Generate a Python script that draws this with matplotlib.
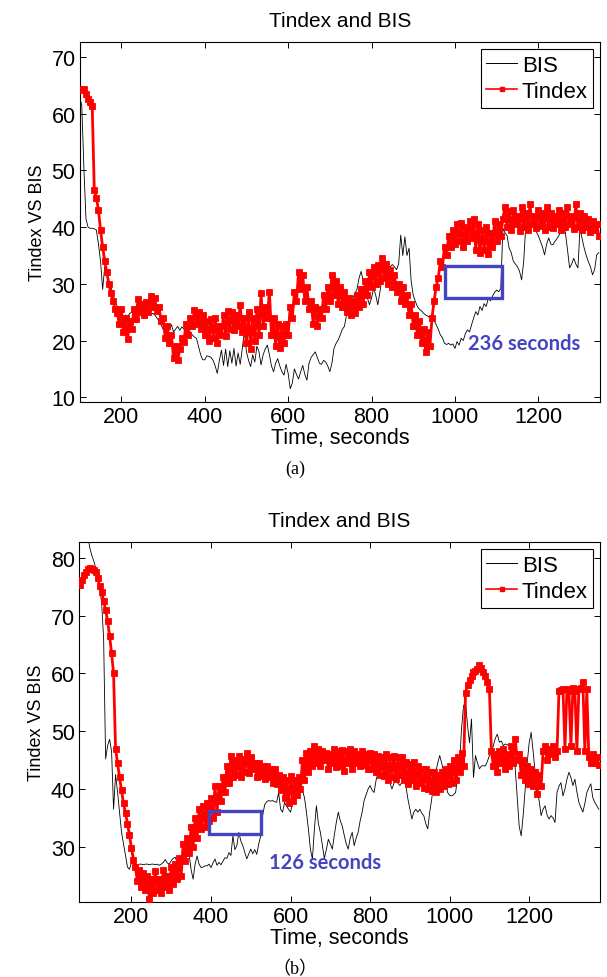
import numpy as np
import matplotlib
matplotlib.use("Agg")
import matplotlib.pyplot as plt
from matplotlib.patches import Rectangle
from matplotlib.lines import Line2D

plt.rcParams["font.family"] = ["Liberation Sans", "DejaVu Sans"]

# ---- panel (a): samples every 5 s starting at 100 s ----
tindex_a = [
    64.4, 64.2, 64.3, 63.4, 62.6, 62.0, 61.4, 46.5, 45.2, 43.0,
    39.5, 36.5, 34.0, 32.0, 30.0, 28.3, 27.0, 25.5, 24.8, 23.0,
    25.5, 21.5, 24.0, 20.3, 23.5, 22.0, 25.5, 23.8, 27.3, 25.0,
    26.5, 24.5, 26.8, 25.0, 27.8, 26.0, 27.5, 25.2, 26.0, 23.5,
    24.0, 20.5, 22.5, 19.5, 21.0, 17.0, 19.0, 16.5, 18.5, 20.5,
    19.8, 23.0, 21.0, 24.0, 22.5, 25.3, 23.0, 25.0, 22.0, 24.5,
    21.0, 23.5, 20.0, 23.8, 20.5, 24.0, 19.5, 22.5, 21.0, 24.5,
    20.8, 25.2, 22.0, 25.0, 21.8, 24.5, 22.5, 26.3, 21.5, 24.0,
    19.5, 25.0, 18.5, 24.0, 20.0, 25.5, 21.0, 28.3, 22.5, 26.0,
    24.0, 28.6, 21.0, 24.0, 19.0, 23.0, 18.6, 22.5, 19.5, 23.0,
    21.0, 26.0, 24.0, 28.5, 27.0, 32.0, 29.0, 31.5, 27.0, 29.5,
    25.5, 27.0, 23.0, 26.0, 22.5, 25.5, 24.0, 28.0, 25.5, 29.5,
    27.0, 31.6, 28.0, 30.5, 26.5, 29.5, 26.0, 28.5, 25.0, 27.5,
    24.5, 27.0, 24.8, 28.0, 26.0, 29.0, 26.5, 30.5, 28.0, 32.0,
    29.5, 33.0, 30.0, 33.4, 30.5, 34.5, 31.0, 33.5, 30.0, 32.5,
    29.5, 31.5, 28.5, 30.0, 27.0, 29.5, 26.5, 28.0, 24.5, 26.5,
    22.5, 24.5, 21.0, 23.5, 19.5, 22.0, 18.0, 21.5, 19.0, 24.0,
    27.0, 29.5, 31.0, 34.0, 33.0, 36.5, 35.0, 38.5, 36.5, 39.5,
    37.0, 40.5, 37.5, 40.8, 36.5, 40.0, 37.5, 41.0, 38.0, 41.5,
    36.0, 40.5, 35.5, 39.5, 36.0, 40.0, 35.2, 39.0, 36.5, 41.0,
    37.5, 40.5, 38.5, 41.5, 43.5, 40.0, 42.8, 39.5, 43.0, 40.5,
    42.0, 39.3, 43.5, 40.0, 42.5, 39.5, 44.0, 40.5, 42.0, 39.8,
    43.0, 40.2, 42.5, 39.5, 43.5, 40.0, 42.5, 39.8, 42.0, 40.5,
    43.0, 39.5, 42.5, 40.0, 43.5, 40.5, 42.0, 39.6, 44.0, 40.0,
    42.5, 39.5, 42.0, 40.0, 41.5, 39.2, 41.0, 39.5, 40.5, 38.5,
]
bis_a = [
    63.0, 61.5, 50.5, 41.5, 40.0, 39.8, 39.8, 39.7, 39.5, 37.0,
    34.0, 29.0, 33.0, 31.5, 30.5, 29.5, 28.0, 27.0, 26.0, 25.0,
    24.5, 24.0, 24.5, 24.2, 24.8, 25.0, 24.5, 24.8, 25.2, 25.0,
    24.8, 25.0, 24.6, 24.7, 24.5, 24.8, 24.5, 24.0, 23.5, 22.8,
    22.0, 21.5, 20.7, 22.0, 22.8, 21.5, 22.0, 22.5, 21.8, 22.4,
    22.0, 21.8, 22.2, 21.5, 21.0, 20.6, 20.4, 19.0, 17.5, 16.6,
    16.6, 17.3, 17.2, 17.0, 16.5, 15.5, 14.2, 16.5, 18.3, 15.6,
    18.5, 15.4, 18.2, 16.0, 18.6, 15.5, 17.8, 15.8, 18.6, 21.6,
    18.0, 16.5, 15.4, 17.5, 16.2, 19.0, 18.0, 15.7, 17.5, 18.5,
    19.2, 17.5, 15.5, 14.5, 16.0, 16.8, 15.5, 14.5, 13.9, 15.8,
    14.2, 11.5, 12.5, 15.0, 14.0, 13.2, 14.5, 15.6, 14.0, 13.0,
    16.0, 17.0, 17.5, 18.0, 17.0, 16.0, 15.8, 16.5, 16.2, 15.5,
    14.5, 16.0, 18.6, 19.5, 20.1, 21.0, 22.0, 22.5, 24.5, 26.0,
    28.0, 27.5, 28.3, 29.0, 31.0, 32.2, 30.5, 29.8, 27.5, 26.3,
    27.5, 29.2, 28.0, 26.3, 28.5, 31.0, 31.5, 32.2, 32.5, 33.0,
    33.4, 33.0, 32.5, 33.5, 38.6, 35.0, 38.3, 35.0, 36.3, 30.5,
    28.0, 26.9, 26.0, 25.5, 25.2, 24.8, 24.5, 24.3, 24.0, 23.5,
    23.5, 22.8, 22.0, 21.0, 20.5, 19.5, 19.3, 19.5, 19.2, 19.4,
    18.6, 19.8, 19.2, 20.4, 20.0, 21.2, 21.9, 21.5, 22.8, 24.0,
    25.1, 24.5, 26.0, 25.3, 26.5, 26.0, 27.5, 27.0, 27.8, 28.5,
    28.9, 28.6, 29.2, 39.8, 39.0, 38.5, 36.3, 35.5, 34.0, 33.5,
    33.0, 32.2, 30.7, 34.0, 40.4, 40.0, 40.3, 40.4, 39.8, 39.2,
    38.5, 37.5, 36.5, 35.1, 37.0, 38.1, 37.0, 36.9, 37.5, 38.0,
    38.6, 39.5, 40.4, 39.0, 36.0, 32.8, 33.5, 34.5, 33.5, 32.8,
    39.8, 38.0, 36.3, 35.0, 33.9, 33.0, 31.6, 32.5, 35.1, 35.5,
]

# ---- panel (b): Tindex every 5 s from 70 s, BIS every 5 s from 90 s ----
tindex_b = [
    75.3, 76.2, 77.0, 77.6, 78.0, 78.2, 78.1, 77.9, 77.5, 76.5,
    75.2, 74.1, 72.6, 71.0, 69.0, 66.5, 63.5, 60.0, 47.0, 44.5,
    42.0, 39.8, 37.5, 35.8, 34.0, 32.0, 29.8, 27.8, 26.5, 24.0,
    26.0, 23.0, 25.5, 22.5, 25.0, 21.0, 24.5, 22.0, 25.8, 22.5,
    24.5, 22.0, 26.0, 23.0, 25.0, 22.5, 26.5, 23.5, 27.0, 24.5,
    28.0, 25.0, 30.5, 27.5, 31.5, 29.0, 33.5, 30.0, 35.0, 31.5,
    36.5, 33.0, 37.0, 33.5, 37.5, 34.5, 38.5, 35.0, 40.5, 36.0,
    40.5, 38.0, 42.0, 39.5, 44.0, 41.0, 45.8, 42.0, 45.0, 42.5,
    45.8, 42.0, 45.2, 43.0, 46.3, 42.8, 45.5, 43.5, 44.5, 42.0,
    44.5, 42.2, 44.0, 41.7, 44.0, 42.0, 43.5, 41.0, 43.5, 40.8,
    42.5, 39.8, 42.0, 38.5, 41.5, 37.5, 42.3, 38.0, 41.5, 39.0,
    42.0, 40.0, 45.0, 41.5, 46.3, 43.0, 46.5, 44.0, 47.5, 44.5,
    47.0, 44.0, 46.5, 45.0, 46.3, 43.5, 46.0, 44.5, 47.0, 43.8,
    46.5, 44.0, 46.8, 43.2, 46.5, 44.5, 46.9, 43.5, 46.5, 44.5,
    46.0, 44.0, 46.6, 44.2, 46.0, 43.5, 46.3, 43.5, 46.0, 43.0,
    45.8, 42.5, 45.5, 42.3, 46.0, 41.5, 45.5, 42.0, 45.8, 41.8,
    45.5, 42.5, 45.5, 41.5, 44.6, 40.8, 44.3, 41.5, 44.6, 40.6,
    44.0, 41.0, 43.5, 40.2, 43.5, 40.0, 43.0, 39.6, 42.9, 39.4,
    42.5, 40.0, 43.0, 40.5, 43.5, 40.8, 44.0, 41.0, 45.0, 41.5,
    45.5, 43.0, 46.3, 44.0, 56.7, 58.0, 58.8, 59.5, 60.2, 60.5,
    60.8, 61.4, 61.0, 60.3, 59.5, 58.5, 57.3, 46.5, 44.0, 46.0,
    43.0, 46.5, 44.5, 47.0, 43.5, 46.0, 44.0, 47.5, 44.5, 48.6,
    45.0, 46.0, 42.5, 45.0, 41.5, 44.0, 40.8, 43.5, 40.6, 42.9,
    39.2, 42.5, 40.5, 46.5, 47.5, 45.0, 47.0, 46.0, 47.5, 45.5,
    46.5, 57.0, 57.2, 57.3, 47.0, 57.3, 57.0, 47.5, 57.5, 57.0,
    46.5, 57.3, 57.5, 58.5, 46.5, 57.3, 45.5, 44.5, 46.0, 44.5,
    45.5, 44.2,
]
bis_b = [
    84.0, 81.8, 80.5, 79.5, 78.3, 77.0, 75.0, 72.2, 66.0, 45.2,
    47.5, 48.6, 46.5, 36.5, 42.5, 39.5, 36.0, 32.5, 30.5, 28.5,
    26.5, 26.1, 27.3, 27.0, 27.0, 26.9, 27.0, 27.0, 26.9, 27.0,
    27.0, 26.9, 27.0, 27.0, 26.9, 27.0, 26.8, 27.0, 27.3, 27.8,
    27.2, 27.0, 27.6, 28.0, 28.2, 27.2, 26.1, 27.0, 27.5, 27.9,
    28.3, 28.7, 26.0, 24.4, 27.0, 28.4, 27.0, 26.4, 26.5, 26.7,
    26.7, 27.0, 26.4, 27.2, 27.9, 26.8, 27.3, 26.9, 27.5, 28.1,
    28.0, 29.0, 28.5, 31.9, 29.5, 30.2, 32.5, 31.0, 30.2, 29.0,
    27.9, 28.8, 29.6, 28.8, 29.5, 28.7, 30.5, 31.9, 35.5, 37.3,
    37.8, 38.0, 37.9, 38.0, 37.8, 37.7, 39.4, 36.5, 36.0, 37.7,
    37.0, 36.5, 36.0, 37.5, 38.3, 40.0, 40.6, 41.1, 39.8, 38.5,
    36.0, 33.0, 29.5, 27.9, 33.1, 37.1, 34.0, 32.5, 30.2, 28.0,
    29.5, 31.3, 30.5, 29.6, 32.0, 34.2, 36.0, 34.5, 33.6, 32.0,
    30.5, 29.6, 31.5, 32.5, 30.2, 31.5, 32.5, 34.5, 36.0, 38.0,
    39.0, 40.0, 40.6, 39.8, 39.4, 41.5, 42.9, 45.8, 44.5, 44.0,
    42.5, 41.7, 41.0, 40.0, 41.0, 41.7, 41.0, 40.6, 41.2, 41.7,
    40.5, 38.3, 36.5, 34.8, 36.0, 36.5, 36.0, 36.5, 35.8, 35.4,
    34.0, 33.1, 36.0, 38.3, 41.0, 42.9, 44.5, 45.8, 44.5, 42.9,
    41.0, 39.4, 38.9, 38.8, 39.0, 39.4, 42.0, 44.5, 50.5, 54.4,
    55.0, 51.0, 48.0, 52.1, 42.0, 45.8, 44.5, 43.5, 44.0, 44.0,
    44.0, 44.8, 45.8, 46.5, 47.5, 48.8, 49.5, 48.1, 48.3, 47.5,
    47.8, 47.6, 47.8, 47.2, 46.9, 43.5, 38.5, 33.5, 31.9, 35.5,
    40.0, 44.5, 48.0, 49.8, 46.5, 42.9, 40.0, 38.0, 35.4, 36.5,
    37.1, 35.5, 34.8, 35.4, 35.0, 34.2, 39.4, 40.5, 41.1, 38.8,
    40.0, 41.7, 42.9, 42.0, 40.6, 41.7, 39.5, 37.7, 36.8, 36.0,
    37.5, 39.4, 40.2, 40.9, 38.5, 37.7, 37.1, 36.5,
]

t_tindex_a = np.arange(len(tindex_a)) * 5 + 100
t_bis_a = np.arange(len(bis_a)) * 5 + 100
t_tindex_b = np.arange(len(tindex_b)) * 5 + 70
t_bis_b = np.arange(len(bis_b)) * 5 + 90

blue = "#4444c2"

fig = plt.figure(figsize=(6.07, 9.78), dpi=100)
ax_a = fig.add_axes([0.1313, 0.5882, 0.8572, 0.3675])
ax_b = fig.add_axes([0.1301, 0.0770, 0.8583, 0.3675])

panels = [
    (ax_a, t_bis_a, bis_a, t_tindex_a, tindex_a, (100, 1348), (9.2, 72.6),
     np.arange(10, 71, 10), (976, 27.5, 136, 5.6), (1032, 19.5), "236 seconds", "(a)"),
    (ax_b, t_bis_b, bis_b, t_tindex_b, tindex_b, (68, 1378), (20.5, 82.7),
     np.arange(30, 81, 10), (394, 32.2, 131, 4.0), (547, 27.3), "126 seconds", "（b）"),
]

# legend handles drawn thinner than the dense data line
handles = [
    Line2D([], [], color="black", lw=0.7),
    Line2D([], [], color="red", lw=1.2, marker="s", markersize=2.6),
]

for ax, tb, b, tt, ti, xl, yl, yt, rect, tpos, note, tag in panels:
    ax.plot(tb, b, color="black", lw=0.6, zorder=2)
    ax.plot(tt, ti, color="red", lw=2.0, marker="s", markersize=4.4,
            markeredgewidth=0.6, zorder=3)
    ax.add_patch(Rectangle(rect[:2], rect[2], rect[3], fill=False,
                           edgecolor=blue, lw=2.4, zorder=5))
    ax.text(tpos[0], tpos[1], note, color=blue, fontsize=14.5,
            fontweight="bold", family=["Lato", "DejaVu Sans"],
            va="center", ha="left", zorder=6)
    ax.set_xlim(*xl)
    ax.set_ylim(*yl)
    ax.set_xticks(np.arange(200, 1201, 200))
    ax.set_yticks(yt)
    ax.tick_params(direction="in", top=True, right=True, length=4,
                   width=0.7, labelsize=15.5, pad=3)
    for s in ax.spines.values():
        s.set_linewidth(0.8)
    ax.set_title("Tindex and BIS", fontsize=15, pad=12)
    ax.set_xlabel("Time, seconds", fontsize=15.5, labelpad=0)
    ax.set_ylabel("Tindex VS BIS", fontsize=13, labelpad=4)
    leg = ax.legend(handles, ["BIS", "Tindex"], loc="upper right", fontsize=16,
                    fancybox=False, edgecolor="black", framealpha=1,
                    borderaxespad=0.3, handlelength=1.4, handletextpad=0.2,
                    labelspacing=0.25, borderpad=0.25)
    leg.get_frame().set_linewidth(0.8)
    ax.text(0.415, -0.185, tag, transform=ax.transAxes, ha="center",
            va="center", fontsize=13,
            family=["Liberation Serif", "Noto Sans CJK SC"])

fig.savefig("out.png", dpi=100)
